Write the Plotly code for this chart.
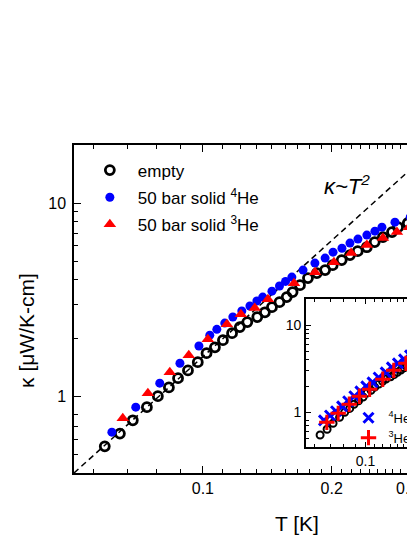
import numpy as np
import plotly.graph_objects as go

# empty cell
T_empty = [0.059, 0.064, 0.0686, 0.074, 0.0785, 0.0833, 0.0875, 0.0923, 0.0973, 0.102,
           0.1067, 0.1114, 0.117, 0.122, 0.127, 0.134, 0.1396, 0.145, 0.151, 0.157,
           0.162, 0.1686, 0.176, 0.1846, 0.193, 0.201, 0.211, 0.2206, 0.230, 0.2415,
           0.252, 0.2634, 0.2766, 0.2857, 0.301, 0.316]
k_empty = [0.55, 0.64, 0.75, 0.877, 1.00, 1.11, 1.24, 1.36, 1.50, 1.67,
           1.79, 1.95, 2.12, 2.28, 2.42, 2.57, 2.72, 2.89, 3.07, 3.26,
           3.46, 3.76, 4.09, 4.34, 4.50, 4.77, 5.07, 5.38, 5.64, 5.91,
           6.28, 6.67, 7.08, 7.51, 7.87, 8.3]

# 50 bar solid 4He
T_he4 = [0.0613, 0.0697, 0.0793, 0.0884, 0.0979, 0.1038, 0.1078, 0.1125, 0.1175, 0.1233,
         0.1288, 0.1337, 0.138, 0.145, 0.151, 0.156, 0.1614, 0.1714, 0.1827, 0.193,
         0.2014, 0.2113, 0.2206, 0.2303, 0.2416, 0.2523, 0.262, 0.281, 0.305, 0.322]
k_he4 = [0.651, 0.877, 1.168, 1.48, 1.82, 2.07, 2.22, 2.39, 2.57, 2.76,
         2.93, 3.11, 3.26, 3.50, 3.72, 3.93, 4.14, 4.50, 4.89, 5.19,
         5.57, 5.84, 6.21, 6.51, 6.83, 7.16, 7.51, 7.97, 8.46, 8.9]

# 50 bar solid 3He
T_he3 = [0.065, 0.0744, 0.0837, 0.0927, 0.1027, 0.1138, 0.1227, 0.1322, 0.1419, 0.1633,
         0.1828, 0.2024, 0.222, 0.2416, 0.2634, 0.284, 0.303]
k_he3 = [0.769, 1.036, 1.33, 1.63, 1.97, 2.36, 2.66, 2.86, 3.18, 3.85,
         4.39, 4.94, 5.51, 6.06, 6.59, 7.08, 7.51]

# films (inset)
T_film4 = [0.0617, 0.0662, 0.071, 0.0762, 0.0818, 0.0879, 0.0943, 0.101, 0.1086, 0.1166,
           0.1266, 0.136, 0.146, 0.1567, 0.168, 0.180]
k_film4 = [0.81, 0.92, 1.03, 1.17, 1.34, 1.53, 1.74, 1.99, 2.21, 2.52,
           2.88, 3.29, 3.66, 4.07, 4.52, 5.16]
T_film3 = [0.0638, 0.0728, 0.0828, 0.0932, 0.105, 0.1223, 0.139, 0.160, 0.178]
k_film3 = [0.768, 0.974, 1.24, 1.53, 1.84, 2.40, 3.04, 3.66, 4.29]

# kappa ~ T^2 guide
T_fit = [0.05, 0.32]
k_fit = [0.40, 16.4]

x_major = [0.1, 0.2, 0.3]
x_labels = ["0.1", "0.2", "0.3"]
y_major = [1, 10]
y_labels = ["1", "10"]

# origin-style minor ticks: 8 between each 0.1 step
x_minor = np.concatenate([np.linspace(a, a + 0.1, 10)[1:-1] for a in [0.0, 0.1, 0.2, 0.3]])
x_minor = [v for v in x_minor if v > 0.05]
y_minor = [0.5, 0.6, 0.7, 0.8, 2, 3, 4, 5, 6, 7, 8, 9]

FONT = "Liberation Sans, Arial, sans-serif"

fig = go.Figure()

fig.add_trace(go.Scatter(x=T_fit, y=k_fit, mode="lines", showlegend=False,
                         line=dict(color="black", width=1.5, dash="6px,4px")))
fig.add_trace(go.Scatter(x=T_empty, y=k_empty, mode="markers", name="empty",
                         legendgroup="a",
                         marker=dict(symbol="circle-open", size=9, color="black",
                                     line=dict(width=2.8, color="black"))))
fig.add_trace(go.Scatter(x=T_he4, y=k_he4, mode="markers", name="50 bar solid <sup>4</sup>He",
                         legendgroup="b",
                         marker=dict(symbol="circle", size=9, color="#0000ff")))
fig.add_trace(go.Scatter(x=T_he3, y=k_he3, mode="markers", name="50 bar solid <sup>3</sup>He",
                         legendgroup="c",
                         marker=dict(symbol="triangle-up", size=11, color="#ff0000")))

# inset
fig.add_trace(go.Scatter(x=T_empty, y=k_empty, mode="markers", showlegend=False,
                         xaxis="x2", yaxis="y2",
                         marker=dict(symbol="circle-open", size=7, color="black",
                                     line=dict(width=2, color="black"))))
fig.add_trace(go.Scatter(x=T_film4, y=k_film4, mode="markers", name="<sup>4</sup>He film",
                         xaxis="x2", yaxis="y2", legend="legend2", legendgroup="d",
                         marker=dict(symbol="x-thin-open", size=10, color="#0000ff",
                                     line=dict(width=3, color="#0000ff"))))
fig.add_trace(go.Scatter(x=T_film3, y=k_film3, mode="markers", name="<sup>3</sup>He film",
                         xaxis="x2", yaxis="y2", legend="legend2", legendgroup="e",
                         marker=dict(symbol="cross-thin-open", size=11, color="#ff0000",
                                     line=dict(width=3, color="#ff0000"))))

axis_common = dict(type="log", showgrid=False, zeroline=False, showline=True,
                   linecolor="black", linewidth=1.5, ticks="inside", tickcolor="black",
                   tickwidth=1.2, tickmode="array", ticklabeloverflow="allow")

# page body has an 8px margin, so the figure is 8px smaller than the window
fig.update_layout(
    width=407, height=529,
    margin=dict(l=66, r=0, t=137, b=64, autoexpand=False),
    paper_bgcolor="white", plot_bgcolor="white",
    font=dict(family=FONT, color="black", size=16),
    xaxis=dict(axis_common, domain=[0, 1], range=[np.log10(0.05), np.log10(0.313)],
               tickvals=x_major, ticktext=x_labels, ticklen=7, mirror="allticks",
               minor=dict(tickmode="array", tickvals=x_minor, ticks="inside", ticklen=4,
                          tickcolor="black", tickwidth=1.2),
               tickfont=dict(size=16)),
    yaxis=dict(axis_common, domain=[0, 1], range=[np.log10(0.4), np.log10(20)],
               tickvals=y_major, ticktext=y_labels, ticklen=7, mirror=False,
               ticklabelstandoff=3,
               minor=dict(tickmode="array", tickvals=y_minor, ticks="inside", ticklen=4,
                          tickcolor="black", tickwidth=1.2),
               tickfont=dict(size=16)),
    xaxis2=dict(axis_common, domain=[0.680, 1.0], anchor="y2",
                range=[np.log10(0.05), np.log10(0.178)],
                tickvals=[0.1], ticktext=["0.1"], ticklen=5, mirror="allticks",
                minor=dict(tickmode="array", tickvals=x_minor, ticks="inside", ticklen=3,
                           tickcolor="black", tickwidth=1),
                tickfont=dict(size=14)),
    yaxis2=dict(axis_common, domain=[0.0793, 0.530], anchor="x2",
                range=[np.log10(0.4), np.log10(20)],
                tickvals=y_major, ticktext=y_labels, ticklen=5, mirror=False,
                minor=dict(tickmode="array", tickvals=y_minor, ticks="inside", ticklen=3,
                           tickcolor="black", tickwidth=1),
                tickfont=dict(size=14)),
    legend=dict(x=0.023, y=0.977, xanchor="left", yanchor="top", itemwidth=46,
                bgcolor="rgba(0,0,0,0)", font=dict(size=17), tracegroupgap=2),
    legend2=dict(x=0.805, y=0.214, xanchor="left", yanchor="top",
                 bgcolor="rgba(0,0,0,0)", font=dict(size=13), tracegroupgap=0),
    annotations=[
        dict(text="T [K]", x=0.654, y=-0.155, xref="paper", yref="paper",
             showarrow=False, font=dict(size=21), xanchor="center", yanchor="middle"),
        dict(text="κ [μW/K-cm]", x=-0.138, y=0.436, xref="paper", yref="paper",
             showarrow=False, font=dict(size=21), textangle=-90,
             xanchor="center", yanchor="middle"),
        dict(text="<i>κ~T<sup>2</sup></i>", x=0.80, y=0.878, xref="paper", yref="paper",
             showarrow=False, font=dict(size=22), xanchor="center", yanchor="middle"),
    ],
)

fig.write_html("out.html")
